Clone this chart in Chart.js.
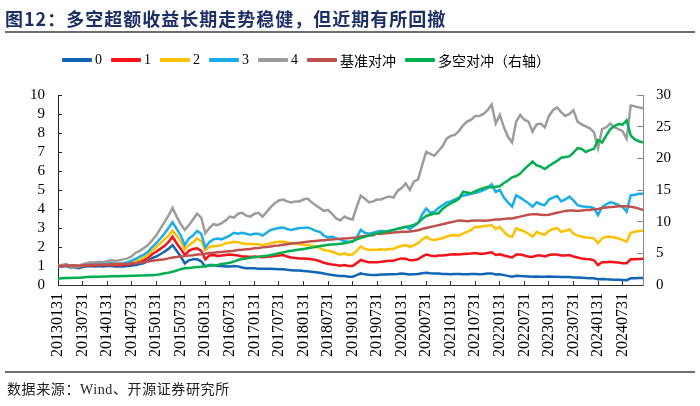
<!DOCTYPE html>
<html>
<head>
<meta charset="utf-8">
<script src="https://cdn.jsdelivr.net/npm/chart.js@4.4.0/dist/chart.umd.min.js"></script>
<style>
  body { margin: 0; background: #fff; }
  #wrap { position: relative; width: 700px; height: 406px; overflow: hidden; }
  #chart { position: absolute; left: 0; top: 0; }
  .title {
    position: absolute; left: 5px; top: 5px;
    font: bold 18px "Noto Sans CJK SC", sans-serif; letter-spacing: 1px;
    color: #1d2f66; white-space: nowrap;
  }
  .rule { position: absolute; left: 5px; right: 5px; height: 2px; background: #6e6e6e; }
  .legend {
    position: absolute; left: 62px; top: 50px; display: flex; align-items: center;
    font: 14px "Liberation Serif", "Noto Sans CJK SC", serif; color: #000; white-space: nowrap;
  }
  .legend .item { display: flex; align-items: center; margin-right: 9px; }
  .legend .bar { width: 30px; height: 3.5px; margin-right: 3px; border-radius: 1px; }
  .source {
    position: absolute; left: 7px; top: 378px;
    font: 14px "Liberation Serif", "Noto Sans CJK SC", serif; letter-spacing: 0.6px; color: #222;
  }
</style>
</head>
<body>
<div id="wrap">
  <canvas id="chart" width="700" height="406"></canvas>
  <div class="title">图12：多空超额收益长期走势稳健，但近期有所回撤</div>
  <div class="rule" style="top:31px"></div>
  <div class="legend" id="legend"></div>
  <div class="rule" style="top:371px"></div>
  <div class="source">数据来源：Wind、开源证券研究所</div>
</div>
<script>
// month-end dates 2013-01 .. 2024-12
const dates = [];
for (let y = 2013; y <= 2024; y++) {
  for (let m = 1; m <= 12; m++) {
    const d = new Date(y, m, 0).getDate();
    dates.push(String(y) + String(m).padStart(2, "0") + String(d));
  }
}

const names = ["0", "1", "2", "3", "4", "基准对冲", "多空对冲（右轴）"];

const group0 = [
  1.0, 0.98, 1.0, 0.92, 0.95, 0.88, 0.95, 0.98, 1.0, 0.98, 1.0, 0.98,
  1.0, 1.0, 0.98, 0.97, 0.98, 1.0, 1.02, 1.05, 1.1, 1.15, 1.25, 1.42,
  1.5, 1.62, 1.75, 1.9, 2.1, 1.8, 1.5, 1.14, 1.3, 1.35, 1.35, 1.25,
  0.97, 1.05, 1.05, 1.0, 1.0, 0.98, 0.97, 1.0, 0.98, 0.92, 0.88, 0.88,
  0.88, 0.86, 0.86, 0.85, 0.85, 0.84, 0.83, 0.83, 0.8, 0.78, 0.76, 0.76,
  0.74, 0.72, 0.7, 0.67, 0.64, 0.6, 0.56, 0.53, 0.5, 0.48, 0.47, 0.44,
  0.44, 0.52, 0.61, 0.56, 0.54, 0.53, 0.53, 0.55, 0.55, 0.56, 0.57, 0.58,
  0.6, 0.58, 0.55, 0.57, 0.58, 0.62, 0.65, 0.62, 0.6, 0.6, 0.58, 0.58,
  0.57, 0.58, 0.58, 0.57, 0.57, 0.58, 0.58, 0.57, 0.58, 0.6, 0.61, 0.55,
  0.56, 0.52, 0.48, 0.44, 0.48, 0.47, 0.46, 0.45, 0.44, 0.45, 0.44, 0.43,
  0.45, 0.44, 0.44, 0.42, 0.42, 0.42, 0.4, 0.39, 0.38, 0.37, 0.36, 0.35,
  0.3, 0.32, 0.3, 0.29, 0.28, 0.27, 0.26, 0.25, 0.35, 0.36, 0.37, 0.37
];
const group1 = [
  1.0, 1.0, 1.02, 0.96, 0.98, 0.93, 1.0, 1.02, 1.04, 1.03, 1.05, 1.04,
  1.05, 1.06, 1.04, 1.04, 1.05, 1.08, 1.1, 1.16, 1.22, 1.3, 1.42, 1.62,
  1.75, 1.9, 2.05, 2.25, 2.54, 2.2, 1.9, 1.58, 1.8, 1.9, 1.93, 1.8,
  1.35, 1.55, 1.58, 1.53, 1.55, 1.58, 1.6, 1.58, 1.55, 1.5, 1.5, 1.48,
  1.5, 1.48, 1.46, 1.48, 1.5, 1.53, 1.55, 1.58, 1.5, 1.45, 1.42, 1.4,
  1.4, 1.38, 1.35, 1.32, 1.25, 1.17, 1.12, 1.08, 1.05, 1.02, 1.05, 1.0,
  1.0, 1.15, 1.32, 1.25, 1.2, 1.2, 1.2, 1.22, 1.25, 1.28, 1.28, 1.35,
  1.4, 1.38, 1.3, 1.32, 1.35, 1.5, 1.6, 1.55, 1.52, 1.55, 1.55, 1.58,
  1.6, 1.62, 1.6, 1.63, 1.65, 1.66, 1.68, 1.65, 1.65, 1.68, 1.72, 1.58,
  1.62, 1.55, 1.5, 1.45, 1.6, 1.6, 1.55, 1.5, 1.48, 1.55, 1.55, 1.5,
  1.58, 1.6, 1.6, 1.55, 1.55, 1.58, 1.5, 1.45, 1.4, 1.37, 1.35, 1.3,
  1.05, 1.2, 1.2, 1.22, 1.2, 1.18, 1.15, 1.15, 1.35, 1.36, 1.37, 1.38
];
const group2 = [
  1.0, 1.02, 1.04, 0.98, 1.0, 0.96, 1.03, 1.06, 1.08, 1.06, 1.1, 1.08,
  1.1, 1.12, 1.1, 1.1, 1.12, 1.15, 1.18, 1.28, 1.35, 1.45, 1.58, 1.82,
  2.0, 2.2, 2.4, 2.6, 2.86, 2.6, 2.3, 1.88, 2.1, 2.25, 2.45, 2.3,
  1.84, 2.0, 2.05, 2.05, 2.1, 2.2, 2.22, 2.28, 2.25, 2.2, 2.16, 2.16,
  2.15, 2.15, 2.1, 2.15, 2.2, 2.25, 2.28, 2.28, 2.25, 2.2, 2.2, 2.15,
  2.12, 2.1, 2.05, 2.05, 1.95, 1.84, 1.8, 1.75, 1.67, 1.6, 1.67, 1.58,
  1.6, 1.8, 2.02, 1.9, 1.84, 1.85, 1.86, 1.88, 1.86, 1.9, 1.9, 2.0,
  2.05, 2.1, 2.0, 2.1, 2.2, 2.4, 2.54, 2.4, 2.37, 2.42, 2.46, 2.55,
  2.6, 2.63, 2.6, 2.7, 2.8, 2.9, 3.07, 3.05, 3.1, 3.1, 3.16, 2.95,
  3.05, 2.8, 2.6, 2.54, 2.98, 2.9, 2.82, 2.7, 2.54, 2.8, 2.7, 2.65,
  2.85, 2.95, 3.0, 2.8, 2.85, 2.93, 2.7, 2.6, 2.55, 2.5, 2.48, 2.45,
  2.2, 2.45, 2.54, 2.54, 2.5, 2.45, 2.37, 2.28, 2.75, 2.8, 2.84, 2.85
];
const group3 = [
  1.0, 1.02, 1.05, 0.98, 1.02, 0.95, 1.05, 1.08, 1.1, 1.08, 1.12, 1.1,
  1.12, 1.15, 1.12, 1.12, 1.15, 1.2, 1.28, 1.38, 1.5, 1.6, 1.75, 2.0,
  2.2, 2.45, 2.7, 3.0, 3.3, 2.95, 2.6, 2.1, 2.45, 2.6, 2.85, 2.7,
  1.98, 2.25, 2.4, 2.45, 2.4, 2.5, 2.6, 2.75, 2.7, 2.75, 2.7, 2.65,
  2.7, 2.7, 2.6, 2.75, 2.9, 2.95, 3.0, 3.03, 2.95, 2.9, 2.95, 3.0,
  3.0, 3.03, 2.95, 2.85, 2.8, 2.6, 2.5, 2.55, 2.45, 2.4, 2.3, 2.28,
  2.28, 2.5, 2.9, 2.75, 2.7, 2.75, 2.8, 2.85, 2.8, 2.85, 2.9, 2.95,
  3.0, 3.07, 2.95, 3.1, 3.25, 3.7, 4.03, 3.8, 3.85, 4.05, 4.2, 4.35,
  4.4, 4.5, 4.6, 4.7, 4.75, 4.8, 4.85, 4.9, 5.0, 5.1, 5.3, 4.9,
  5.0, 4.6, 4.35, 4.12, 4.72, 4.6, 4.45, 4.3, 4.12, 4.35, 4.25, 4.2,
  4.5, 4.6, 4.68, 4.4, 4.5, 4.65, 4.45, 4.2, 4.15, 4.12, 4.1, 4.05,
  3.68, 4.1, 4.25, 4.35, 4.3, 4.2, 4.12, 3.85, 4.72, 4.75, 4.8, 4.8
];
const group4 = [
  1.0, 1.05, 1.1, 1.0, 1.05, 0.98, 1.1, 1.15, 1.2, 1.18, 1.22, 1.2,
  1.25, 1.3, 1.28, 1.3, 1.35, 1.4, 1.5, 1.7, 1.8, 1.95, 2.1, 2.35,
  2.6, 2.95, 3.3, 3.65, 4.05, 3.6, 3.2, 2.9, 3.15, 3.45, 3.75, 3.55,
  2.72, 3.0, 3.2, 3.15, 3.25, 3.4, 3.6, 3.55, 3.75, 3.8, 3.65, 3.6,
  3.75, 3.8, 3.6, 3.85, 4.1, 4.3, 4.45, 4.5, 4.4, 4.35, 4.4, 4.4,
  4.5, 4.55, 4.35, 4.2, 4.05, 3.9, 3.95, 3.75, 3.5, 3.4, 3.6, 3.5,
  3.45, 4.1, 4.7, 4.55, 4.35, 4.4, 4.5, 4.5, 4.6, 4.65, 4.6, 4.95,
  5.1, 5.35, 5.0, 5.45, 5.55, 6.3, 7.0, 6.9, 6.8, 7.05, 7.3, 7.7,
  7.85, 7.9, 8.1, 8.4, 8.6, 8.7, 8.9, 8.9, 9.0, 9.2, 9.5, 8.5,
  8.95, 8.3, 7.8, 7.5, 8.6, 8.95, 8.7, 8.6, 8.07, 8.45, 8.5, 8.3,
  8.9, 9.2, 9.35, 9.1, 8.9, 9.0, 9.2, 8.6, 8.45, 8.35, 8.25, 8.05,
  7.2, 8.2, 8.3, 8.5, 8.3, 8.2, 8.1, 7.7, 9.45, 9.4, 9.35, 9.3
];
const benchHedge = [
  1.0, 1.0, 1.02, 1.02, 1.03, 1.02, 1.04, 1.05, 1.05, 1.06, 1.07, 1.07,
  1.08, 1.09, 1.1, 1.1, 1.11, 1.12, 1.14, 1.15, 1.18, 1.2, 1.24, 1.28,
  1.3, 1.33, 1.36, 1.4, 1.45, 1.47, 1.5, 1.52, 1.55, 1.57, 1.6, 1.62,
  1.65, 1.68, 1.7, 1.72, 1.74, 1.76, 1.78, 1.8, 1.84, 1.86, 1.88, 1.9,
  1.93, 1.95, 1.98, 2.0, 2.03, 2.06, 2.08, 2.12, 2.15, 2.18, 2.2, 2.22,
  2.25, 2.28, 2.3, 2.32, 2.34, 2.36, 2.38, 2.4, 2.42, 2.43, 2.45, 2.46,
  2.48, 2.5, 2.55, 2.58, 2.6, 2.62, 2.7, 2.7, 2.72, 2.74, 2.76, 2.78,
  2.8, 2.8, 2.82, 2.84, 2.88, 2.95, 3.0, 3.05, 3.1, 3.15, 3.2, 3.25,
  3.3, 3.35, 3.4, 3.38, 3.36, 3.38, 3.4, 3.4, 3.38, 3.4, 3.42, 3.45,
  3.45, 3.48, 3.5, 3.5, 3.55, 3.6, 3.65, 3.7, 3.73, 3.72, 3.7, 3.68,
  3.7, 3.75, 3.8, 3.85, 3.9, 3.92, 3.92, 3.9, 3.92, 3.95, 3.95, 3.98,
  4.0, 4.05, 4.08, 4.1, 4.12, 4.15, 4.15, 4.14, 4.12, 4.08, 4.02, 3.95
];
const longShort = [
  1.0, 1.05, 1.1, 1.1, 1.15, 1.15, 1.2, 1.25, 1.3, 1.3, 1.32, 1.35,
  1.35, 1.38, 1.4, 1.4, 1.42, 1.42, 1.45, 1.45, 1.5, 1.5, 1.52, 1.55,
  1.6, 1.7, 1.85, 1.95, 2.1, 2.3, 2.5, 2.63, 2.7, 2.78, 2.85, 2.9,
  3.0, 3.05, 3.1, 3.16, 3.3, 3.4, 3.5, 3.7, 3.95, 4.1, 4.2, 4.3,
  4.4, 4.45, 4.55, 4.6, 4.74, 4.85, 5.0, 5.15, 5.3, 5.4, 5.5, 5.6,
  5.7, 5.8, 5.9, 6.0, 6.15, 6.25, 6.35, 6.4, 6.45, 6.5, 6.6, 6.7,
  6.9, 7.2, 7.4, 7.6, 7.8, 8.0, 8.2, 8.3, 8.4, 8.55, 8.7, 8.9,
  9.0, 9.15, 9.3, 9.5, 9.8, 10.4, 10.9, 11.1, 11.3, 11.3, 12.0, 12.5,
  12.9, 13.2, 13.6, 14.7, 14.6, 14.5, 14.8, 15.1, 15.3, 15.5, 15.4, 15.5,
  15.6, 16.1, 16.5, 17.0, 17.2, 17.6, 18.3, 18.9, 19.5, 18.9, 18.7, 18.3,
  18.8, 19.2, 19.6, 20.1, 20.2, 20.3, 20.9, 21.6, 21.5, 21.0, 21.3, 21.5,
  22.9, 22.5, 23.6, 24.6, 25.1, 25.4, 25.3, 26.0, 23.6, 23.0, 22.7, 22.5
];

const leftTicks = { min: 0, max: 10, step: 1 };
const rightTicks = { min: 0, max: 30, step: 5 };

const colors = ["#1264B4", "#F5121B", "#FFC000", "#19AEEA", "#9C9C9C", "#C0504D", "#00B050"];
const series = [group0, group1, group2, group3, group4, benchHedge, longShort];

Chart.defaults.font.family = '"Liberation Serif", "Times New Roman", serif';
Chart.defaults.font.size = 15;
Chart.defaults.color = "#000";

const ctx = document.getElementById("chart").getContext("2d");
const chart = new Chart(ctx, {
  type: "line",
  data: {
    labels: dates,
    datasets: series.map((vals, i) => ({
      label: names[i],
      data: vals,
      borderColor: colors[i],
      backgroundColor: colors[i],
      borderWidth: 2.5,
      pointRadius: 0,
      tension: 0,
      yAxisID: i === 6 ? "y2" : "y",
      order: 6 - i,
    })),
  },
  options: {
    responsive: false,
    animation: false,
    layout: { padding: { top: 95, left: 0, right: 0, bottom: 0 } },
    plugins: { legend: { display: false }, tooltip: { enabled: false } },
    scales: {
      x: {
        offset: false,
        grid: { drawOnChartArea: false, tickLength: -4, color: "#333", offset: false },
        border: { color: "#333", width: 1 },
        ticks: {
          autoSkip: false,
          minRotation: 90,
          maxRotation: 90,
          padding: 12,
          font: { size: 16 },
          callback: function (v, i) {
            return i % 6 === 0 ? dates[i] : null;
          },
        },
        afterFit: (s) => { s.height = 121; },
      },
      y: {
        position: "left",
        min: leftTicks.min,
        max: leftTicks.max,
        ticks: { stepSize: leftTicks.step, padding: 17, autoSkip: false },
        grid: { drawOnChartArea: false, tickLength: -4, color: "#222" },
        border: { color: "#222", width: 1 },
        afterFit: (s) => { s.width = 58; },
      },
      y2: {
        position: "right",
        min: rightTicks.min,
        max: rightTicks.max,
        ticks: { stepSize: rightTicks.step, padding: 19, autoSkip: false },
        grid: { drawOnChartArea: false, tickLength: -6, color: "#888" },
        border: { color: "#888", width: 1 },
        afterFit: (s) => { s.width = 57; },
      },
    },
  },
});

// legend built from the chart's datasets
const legendEl = document.getElementById("legend");
chart.data.datasets.forEach((ds) => {
  const item = document.createElement("div");
  item.className = "item";
  const bar = document.createElement("span");
  bar.className = "bar";
  bar.style.background = ds.borderColor;
  const txt = document.createElement("span");
  txt.textContent = ds.label;
  item.appendChild(bar);
  item.appendChild(txt);
  legendEl.appendChild(item);
});
</script>
</body>
</html>
